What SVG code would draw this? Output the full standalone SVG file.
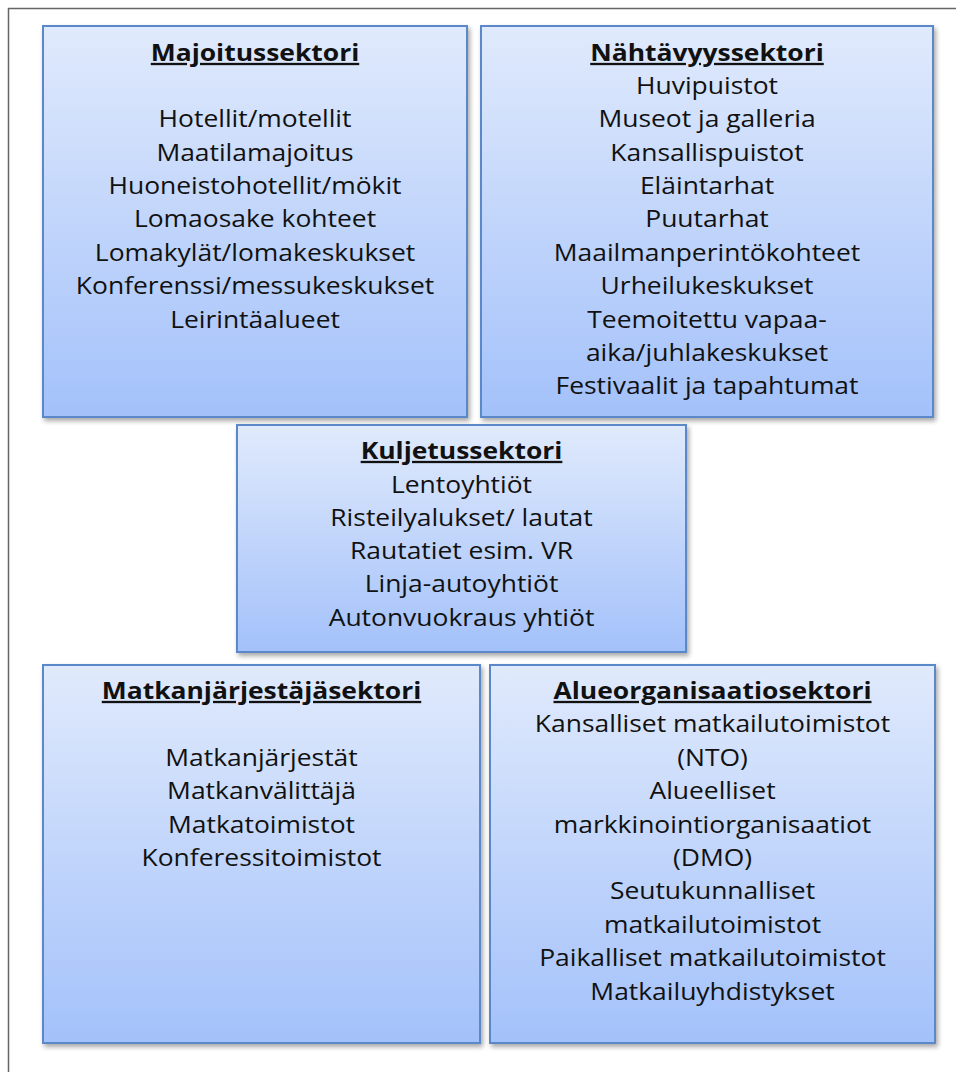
<svg xmlns="http://www.w3.org/2000/svg" width="956" height="1072" viewBox="0 0 956 1072">
<defs>
<linearGradient id="bg" x1="0" y1="0" x2="0" y2="1">
<stop offset="0" stop-color="#e0eafc"/>
<stop offset="1" stop-color="#a3c1fa"/>
</linearGradient>
<filter id="sh" x="-5%" y="-5%" width="115%" height="115%">
<feGaussianBlur in="SourceAlpha" stdDeviation="2.5"/>
<feOffset dx="2" dy="3" result="b"/>
<feComponentTransfer><feFuncA type="linear" slope="0.35"/></feComponentTransfer>
<feMerge><feMergeNode/><feMergeNode in="SourceGraphic"/></feMerge>
</filter>
</defs>
<style>
.box{fill:url(#bg);stroke:#5a88c8;stroke-width:2;filter:url(#sh)}
text{font-family:"Open Sans","Liberation Sans",sans-serif;font-size:23px;fill:#111;text-anchor:middle}
.t{font-weight:bold;text-decoration:underline}
</style>
<rect x="0" y="0" width="956" height="1072" fill="#fff"/>
<path d="M8.5 1072 V8.5 H956" fill="none" stroke="#666" stroke-width="1.5"/>
<g id="connectors"></g>
<g id="majoitus">
<rect class="box" x="43" y="26" width="424" height="391"/>
<g transform="translate(255,0) scale(1.15,1)">
<text class="t" x="0" y="61">Majoitussektori</text>
<text x="0" y="127">Hotellit/motellit</text>
<text x="0" y="161">Maatilamajoitus</text>
<text x="0" y="194">Huoneistohotellit/mökit</text>
<text x="0" y="227">Lomaosake kohteet</text>
<text x="0" y="261">Lomakylät/lomakeskukset</text>
<text x="0" y="294">Konferenssi/messukeskukset</text>
<text x="0" y="328">Leirintäalueet</text>
</g>
</g>
<g id="nahtavyys">
<rect class="box" x="481" y="26" width="452" height="391"/>
<g transform="translate(707,0) scale(1.15,1)">
<text class="t" x="0" y="61">Nähtävyyssektori</text>
<text x="0" y="94">Huvipuistot</text>
<text x="0" y="127">Museot ja galleria</text>
<text x="0" y="161">Kansallispuistot</text>
<text x="0" y="194">Eläintarhat</text>
<text x="0" y="227">Puutarhat</text>
<text x="0" y="261">Maailmanperintökohteet</text>
<text x="0" y="294">Urheilukeskukset</text>
<text x="0" y="328">Teemoitettu vapaa-</text>
<text x="0" y="361">aika/juhlakeskukset</text>
<text x="0" y="394">Festivaalit ja tapahtumat</text>
</g>
</g>
<g id="kuljetus">
<rect class="box" x="237" y="425" width="449" height="227"/>
<g transform="translate(461.5,0) scale(1.15,1)">
<text class="t" x="0" y="459">Kuljetussektori</text>
<text x="0" y="493">Lentoyhtiöt</text>
<text x="0" y="526">Risteilyalukset/ lautat</text>
<text x="0" y="559">Rautatiet esim. VR</text>
<text x="0" y="592">Linja-autoyhtiöt</text>
<text x="0" y="626">Autonvuokraus yhtiöt</text>
</g>
</g>
<g id="matkanjarjestaja">
<rect class="box" x="43" y="665" width="437" height="378"/>
<g transform="translate(261.5,0) scale(1.15,1)">
<text class="t" x="0" y="699">Matkanjärjestäjäsektori</text>
<text x="0" y="766">Matkanjärjestät</text>
<text x="0" y="799">Matkanvälittäjä</text>
<text x="0" y="833">Matkatoimistot</text>
<text x="0" y="866">Konferessitoimistot</text>
</g>
</g>
<g id="alueorganisaatio">
<rect class="box" x="490" y="665" width="445" height="378"/>
<g transform="translate(712.5,0) scale(1.15,1)">
<text class="t" x="0" y="699">Alueorganisaatiosektori</text>
<text x="0" y="732">Kansalliset matkailutoimistot</text>
<text x="0" y="766">(NTO)</text>
<text x="0" y="799">Alueelliset</text>
<text x="0" y="833">markkinointiorganisaatiot</text>
<text x="0" y="866">(DMO)</text>
<text x="0" y="899">Seutukunnalliset</text>
<text x="0" y="933">matkailutoimistot</text>
<text x="0" y="966">Paikalliset matkailutoimistot</text>
<text x="0" y="1000">Matkailuyhdistykset</text>
</g>
</g>
</svg>
